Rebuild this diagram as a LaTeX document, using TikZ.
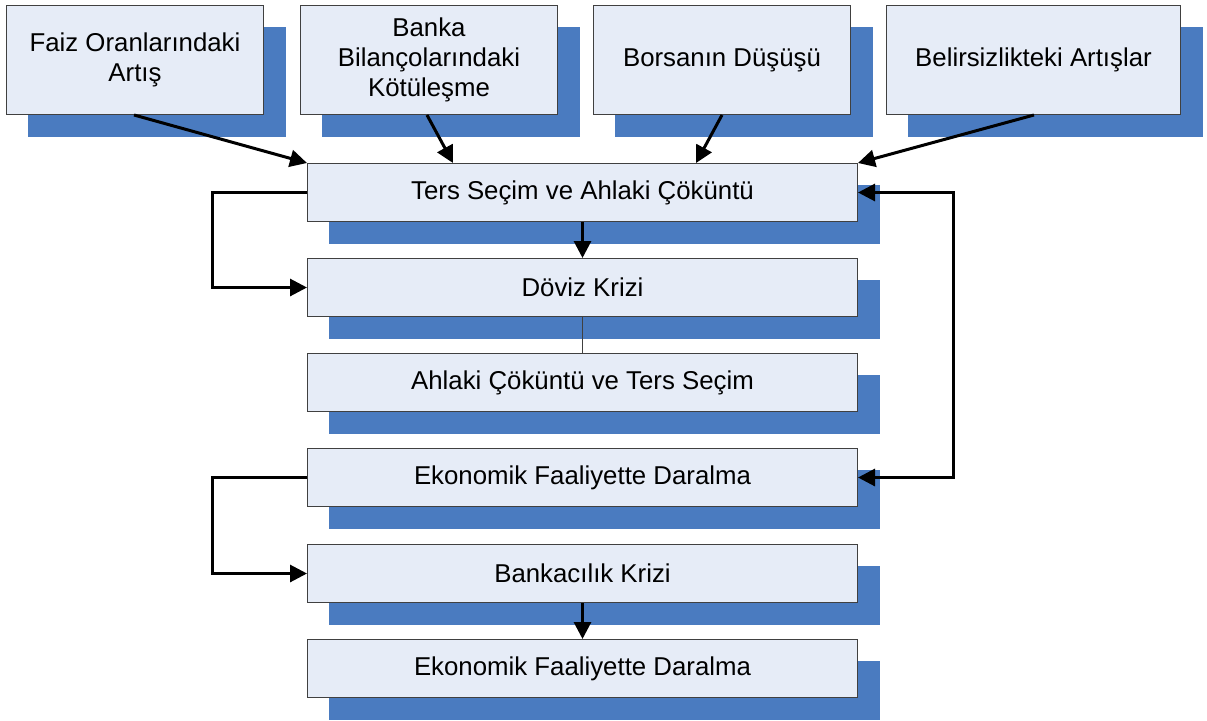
\documentclass[tikz,border=0pt]{standalone}
\usepackage{fontspec}
\setmainfont{Liberation Sans}
\usetikzlibrary{arrows.meta,backgrounds,calc}
\definecolor{boxfill}{RGB}{230,236,247}
\definecolor{shadowc}{RGB}{74,123,192}
\definecolor{boxline}{RGB}{64,64,64}
\begin{document}
\begin{tikzpicture}[x=1pt,y=-1pt,
  box/.style={draw=boxline,line width=1pt,fill=boxfill,anchor=north west,inner sep=0pt,align=center,font=\fontsize{25.8}{30}\selectfont},
  topbox/.style={box,minimum width=257pt,minimum height=109pt},
  mainbox/.style={box,minimum width=550pt,minimum height=58pt},
  arr/.style={line width=3pt,-{Triangle[length=17pt,width=17pt]}},
  darr/.style={line width=3pt,{Triangle[length=17pt,width=17pt]}-{Triangle[length=17pt,width=17pt]}},
  thin/.style={line width=1pt,draw=boxline},
  ]
\useasboundingbox (0,0) rectangle (1207,720);
\node[topbox] (b1) at (6,5) {Faiz Oranlarındaki\\Artış};
\node[topbox] (b2) at (300,5) {Banka\\Bilançolarındaki\\Kötüleşme};
\node[topbox] (b3) at (593,5) {Borsanın Düşüşü};
\node[topbox,minimum width=294pt] (b4) at (886,5) {Belirsizlikteki Artışlar};
\node[mainbox] (ters) at (307,163) {Ters Seçim ve Ahlaki Çöküntü};
\node[mainbox] (doviz) at (307,258) {Döviz Krizi};
\node[mainbox] (ahlaki) at (307,353) {Ahlaki Çöküntü ve Ters Seçim};
\node[mainbox] (eko) at (307,448) {Ekonomik Faaliyette Daralma};
\node[mainbox] (bank) at (307,544) {Bankacılık Krizi};
\node[mainbox] (eko2) at (307,639) {Ekonomik Faaliyette Daralma};
\begin{scope}[on background layer]
  \foreach \n in {b1,b2,b3,b4,ters,doviz,ahlaki,eko,bank,eko2}
    \fill[shadowc] ($(\n.north west)+(22,22)$) rectangle ($(\n.south east)+(22,22)$);
\end{scope}
\draw[arr] ($(b1.south west)+(128,0)$) -- (ters.north west);
\draw[arr] ($(b2.south west)+(127,0)$) -- ($(ters.north west)+(146,0)$);
\draw[arr] ($(b3.south west)+(129,0)$) -- ($(ters.north west)+(389,0)$);
\draw[arr] ($(b4.south west)+(148,0)$) -- (ters.north east);
\draw[arr] (ters.south) -- (doviz.north);
\draw[thin] (doviz.south) -- (ahlaki.north);
\draw[arr] (ters.west) -- ++(-95,0) |- (doviz.west);
\draw[arr] (eko.west) -- ++(-95,0) |- (bank.west);
\draw[arr] (bank.south) -- (eko2.north);
\draw[darr] (eko.east) -- ++(95,0) |- (ters.east);
\end{tikzpicture}
\end{document}
